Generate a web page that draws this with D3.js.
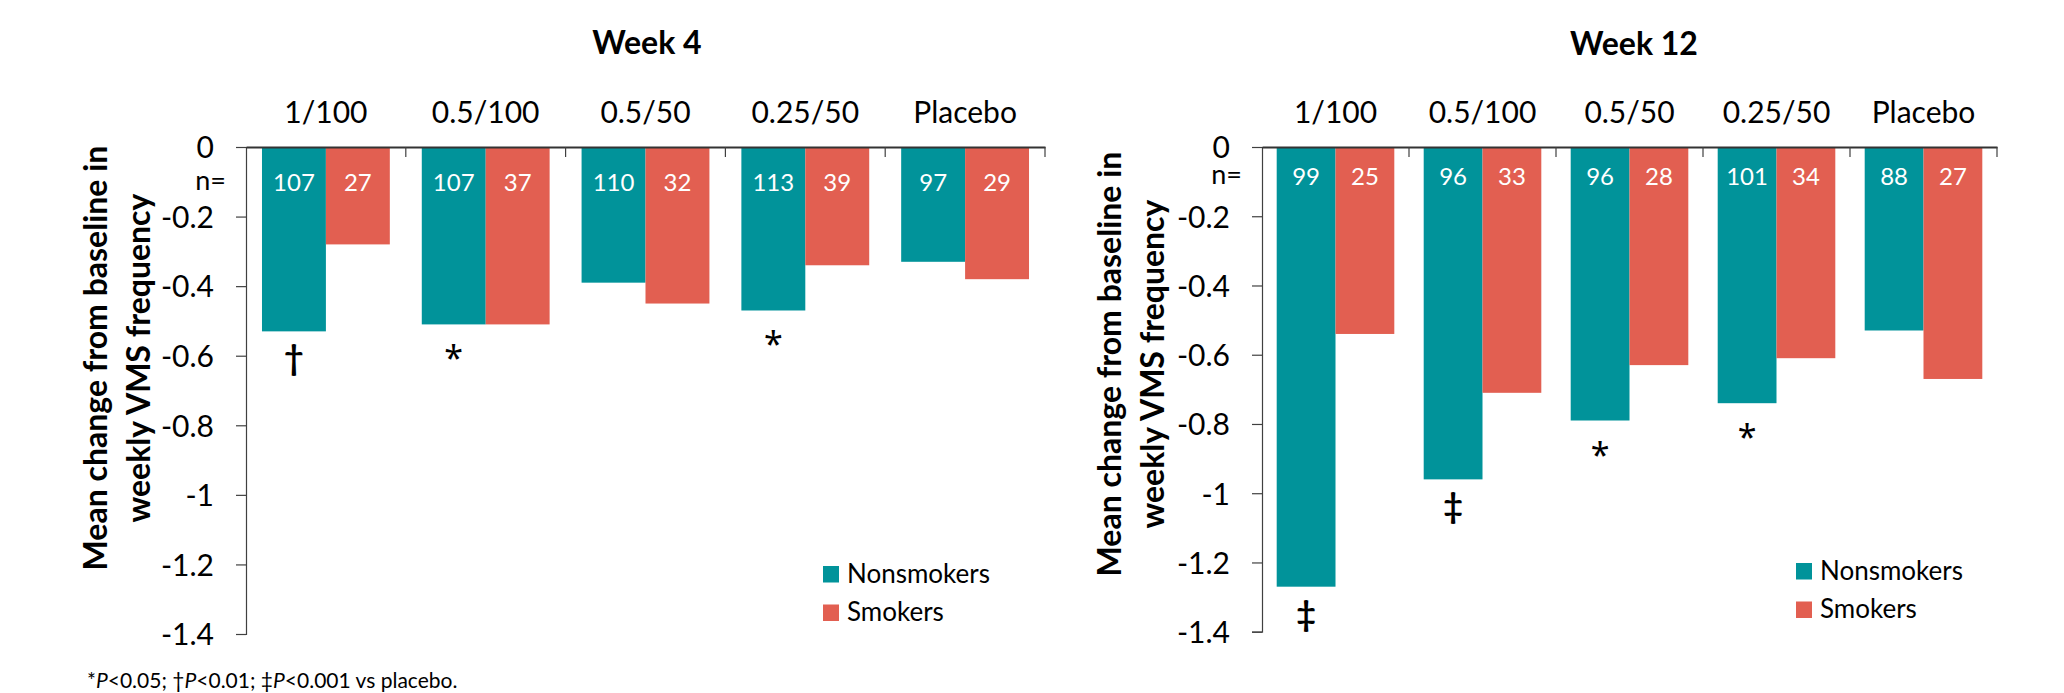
<!DOCTYPE html>
<html>
<head>
<meta charset="utf-8">
<script src="https://cdn.jsdelivr.net/npm/d3@7"></script>
<style>
  html, body { margin: 0; padding: 0; background: #fff; }
  svg { display: block; font-family: Lato, "Open Sans", sans-serif; }
</style>
</head>
<body>
<svg id="chart" width="2064" height="693"></svg>
<script>
// Dose groups (mg/mg) shown on both panels
const categories = ["1/100", "0.5/100", "0.5/50", "0.25/50", "Placebo"];
const seriesNames = ["Nonsmokers", "Smokers"];

// Week 4: mean change from baseline in weekly VMS frequency
const week4Nonsmokers = [-0.53, -0.51, -0.39, -0.47, -0.33];
const week4Smokers    = [-0.28, -0.51, -0.45, -0.34, -0.38];
const week4NNonsmokers = [107, 107, 110, 113, 97];
const week4NSmokers    = [27, 37, 32, 39, 29];
const week4Significance = ["†", "*", "", "*", ""];

// Week 12
const week12Nonsmokers = [-1.27, -0.96, -0.79, -0.74, -0.53];
const week12Smokers    = [-0.54, -0.71, -0.63, -0.61, -0.67];
const week12NNonsmokers = [99, 96, 96, 101, 88];
const week12NSmokers    = [25, 33, 28, 34, 27];
const week12Significance = ["‡", "‡", "*", "*", ""];

const yTickValues = [0, -0.2, -0.4, -0.6, -0.8, -1, -1.2, -1.4];

const colors = { Nonsmokers: "#01939A", Smokers: "#E25F51" };

const panels = [
  {
    title: "Week 4", nonsmokers: week4Nonsmokers, smokers: week4Smokers,
    nNon: week4NNonsmokers, nSmk: week4NSmokers, sig: week4Significance,
    left: 246, right: 1045, top: 147, bottom: 634,
    titleX: 647, titleY: 54, yTitleX: 107, yTitleY: 358, nBaseline: 190.5,
    legendX: 823, legendY: 566
  },
  {
    title: "Week 12", nonsmokers: week12Nonsmokers, smokers: week12Smokers,
    nNon: week12NNonsmokers, nSmk: week12NSmokers, sig: week12Significance,
    left: 1262, right: 1997, top: 147, bottom: 631.7,
    titleX: 1634, titleY: 55, yTitleX: 1121, yTitleY: 364, nBaseline: 185,
    legendX: 1796, legendY: 563
  }
];

const svg = d3.select("#chart");

panels.forEach(p => {
  const g = svg.append("g");

  const x = d3.scaleBand().domain(categories).range([p.left, p.right]).paddingInner(0).paddingOuter(0);
  const xs = d3.scaleBand().domain(seriesNames).range([0, x.bandwidth()]).paddingInner(0).paddingOuter(0.25);
  const y = d3.scaleLinear().domain([0, -1.4]).range([p.top, p.bottom]);

  const rows = categories.map((c, i) => ({
    category: c,
    values: [
      { series: "Nonsmokers", value: p.nonsmokers[i], n: p.nNon[i], sig: p.sig[i] },
      { series: "Smokers", value: p.smokers[i], n: p.nSmk[i], sig: "" }
    ]
  }));

  // Panel title
  g.append("text")
    .attr("x", p.titleX).attr("y", p.titleY)
    .attr("text-anchor", "middle")
    .attr("font-size", 32).attr("font-weight", 700)
    .text(p.title);

  // Bars
  const groups = g.selectAll("g.cat").data(rows).join("g")
    .attr("class", "cat")
    .attr("transform", d => `translate(${x(d.category)},0)`);

  groups.selectAll("rect").data(d => d.values).join("rect")
    .attr("x", d => xs(d.series))
    .attr("y", y(0))
    .attr("width", xs.bandwidth())
    .attr("height", d => y(d.value) - y(0))
    .attr("fill", d => colors[d.series]);

  // Sample sizes inside the bars
  groups.selectAll("text.n").data(d => d.values).join("text")
    .attr("class", "n")
    .attr("x", d => xs(d.series) + xs.bandwidth() / 2)
    .attr("y", p.nBaseline)
    .attr("text-anchor", "middle")
    .attr("font-size", 24)
    .attr("fill", "#fff")
    .text(d => d.n);

  // Significance markers below the bars
  const isStar = d => d.sig === "*";
  groups.selectAll("text.sig").data(d => d.values.filter(v => v.sig)).join("text")
    .attr("class", "sig")
    .attr("x", d => xs(d.series) + xs.bandwidth() / 2)
    .attr("y", d => y(d.value) + (isStar(d) ? 46 : 39))
    .attr("text-anchor", "middle")
    .attr("font-family", d => isStar(d) ? "'Noto Sans', sans-serif" : "Lato, sans-serif")
    .attr("font-weight", d => isStar(d) ? 400 : 700)
    .attr("font-size", d => isStar(d) ? 34 : 34)
    .text(d => d.sig);

  // "n=" label
  g.append("text")
    .attr("x", p.left - 20).attr("y", p.nBaseline - 1)
    .attr("text-anchor", "end")
    .attr("font-size", 27)
    .text("n=");

  // Y axis
  const yAxis = g.append("g")
    .attr("transform", `translate(${p.left},0)`)
    .call(d3.axisLeft(y).tickValues(yTickValues).tickSize(10).tickPadding(22)
      .tickFormat(v => v === 0 ? "0" : String(v)));
  yAxis.select(".domain").attr("stroke", "#404040").attr("stroke-width", 1.2);
  yAxis.selectAll(".tick line").attr("stroke", "#404040").attr("stroke-width", 1.2);
  yAxis.selectAll(".tick text")
    .attr("font-size", 30).attr("font-family", "Lato, sans-serif")
    .attr("fill", "#000").attr("dy", "0.36em");

  // Category axis along zero, labels above, boundary ticks pointing down
  const xAxis = g.append("g")
    .attr("transform", `translate(0,${y(0)})`)
    .call(d3.axisTop(x).tickSize(0).tickPadding(24));
  xAxis.select(".domain").attr("stroke", "#333").attr("stroke-width", 2);
  xAxis.selectAll(".tick text")
    .attr("font-size", 30).attr("font-family", "Lato, sans-serif").attr("fill", "#000");

  const bounds = categories.map(c => x(c)).concat([x.range()[1]]);
  g.selectAll("line.bound").data(bounds.slice(1)).join("line")
    .attr("class", "bound")
    .attr("x1", d => d).attr("x2", d => d)
    .attr("y1", y(0)).attr("y2", y(0) + 10)
    .attr("stroke", "#404040").attr("stroke-width", 1.2);

  // Y axis title (two lines)
  const yt = g.append("text")
    .attr("transform", `translate(${p.yTitleX},${p.yTitleY}) rotate(-90)`)
    .attr("text-anchor", "middle")
    .attr("font-size", 32).attr("font-weight", 700);
  yt.append("tspan").attr("x", 0).attr("y", 0).text("Mean change from baseline in");
  yt.append("tspan").attr("x", 0).attr("y", 43).text("weekly VMS frequency");

  // Legend
  const lg = g.append("g").attr("transform", `translate(${p.legendX},${p.legendY})`);
  const items = lg.selectAll("g").data(seriesNames).join("g")
    .attr("transform", (d, i) => `translate(0,${i * 38.5})`);
  items.append("rect").attr("width", 16).attr("height", 16.5).attr("fill", d => colors[d]);
  items.append("text").attr("x", 24).attr("y", 16.5)
    .attr("font-size", 26).text(d => d);
});

// Footnote
const foot = svg.append("text").attr("x", 87).attr("y", 688).attr("font-size", 21);
foot.append("tspan").text("*");
foot.append("tspan").attr("font-style", "italic").text("P");
foot.append("tspan").text("<0.05; †");
foot.append("tspan").attr("font-style", "italic").text("P");
foot.append("tspan").text("<0.01; ‡");
foot.append("tspan").attr("font-style", "italic").text("P");
foot.append("tspan").text("<0.001 vs placebo.");
</script>
</body>
</html>
